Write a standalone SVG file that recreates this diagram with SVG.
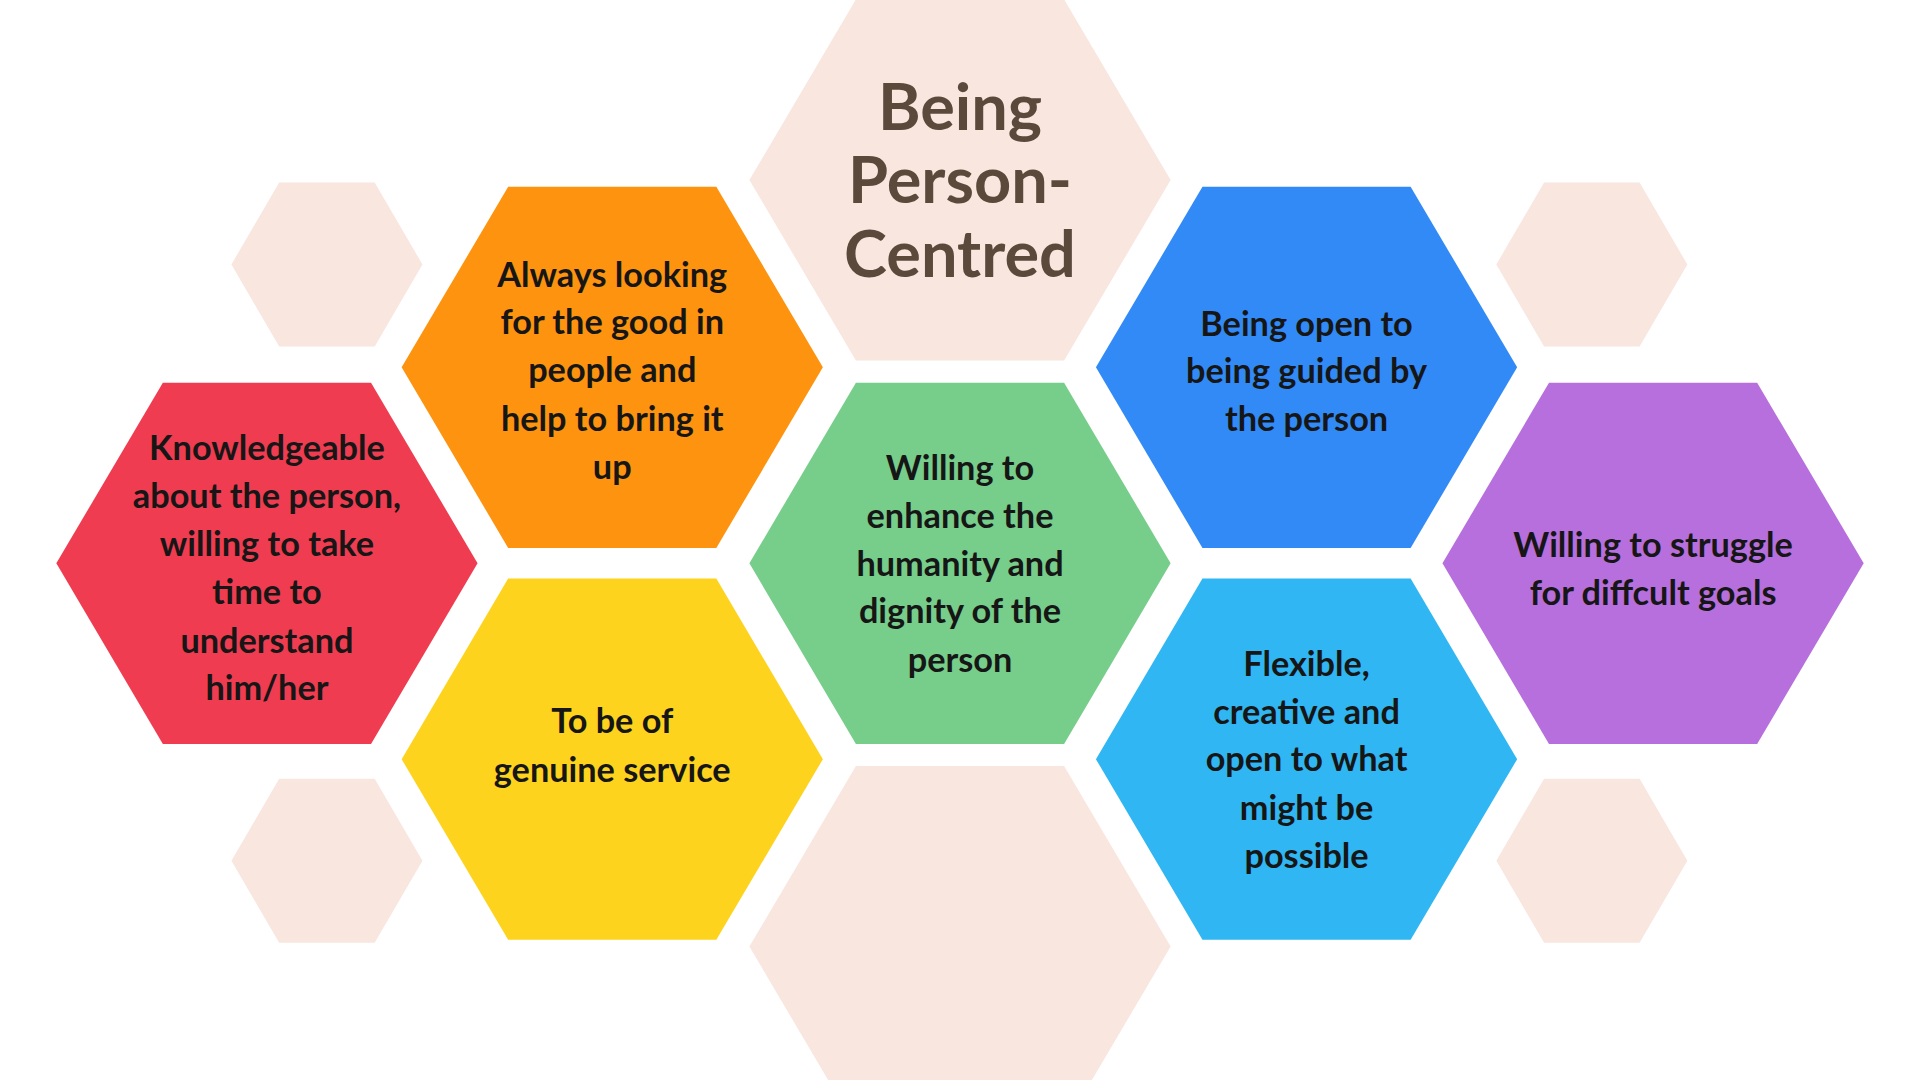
<svg xmlns="http://www.w3.org/2000/svg" width="1920" height="1080" viewBox="0 0 1920 1080">
<defs>
<style>
text{font-family:Lato,"Open Sans",sans-serif;font-weight:bold;text-anchor:middle;fill:#161616;font-size:28px}
.t{font-size:53px;fill:#5b4a3c}
</style>
<polygon id="big" points="-172,0 -85,-147.5 85,-147.5 172,0 85,147.5 -85,147.5"/>
<polygon id="sm" points="-78,0 -39,-67 39,-67 78,0 39,67 -39,67"/>
</defs>
<rect width="1920" height="1080" fill="#fff"/>
<g transform="scale(1.2245)">
<g id="deco" fill="#f8e6df">
<use href="#sm" x="267" y="216"/><use href="#sm" x="267" y="703"/>
<use href="#sm" x="1300" y="216"/><use href="#sm" x="1300" y="703"/>
<use href="#big" x="784" y="773"/>
</g>
<g id="title"><use href="#big" x="784" y="147" fill="#f8e6df"/>
<text class="t" x="784" y="106">Being</text><text class="t" x="784" y="166">Person-</text><text class="t" x="784" y="226">Centred</text></g>
<g id="orange"><use href="#big" x="500" y="300" fill="#fd930f"/>
<text x="500" y="234">Always looking</text><text x="500" y="273">for the good in</text><text x="500" y="312">people and</text><text x="500" y="352">help to bring it</text><text x="500" y="391">up</text></g>
<g id="red"><use href="#big" x="218" y="460" fill="#ef3c50"/>
<text x="218" y="376">Knowledgeable</text><text x="218" y="415">about the person,</text><text x="218" y="454">willing to take</text><text x="218" y="493">time to</text><text x="218" y="533">understand</text><text x="218" y="572">him/her</text></g>
<g id="yellow"><use href="#big" x="500" y="620" fill="#fdd31d"/>
<text x="500" y="599">To be of</text><text x="500" y="639">genuine service</text></g>
<g id="green"><use href="#big" x="784" y="460" fill="#77cd8a"/>
<text x="784" y="392">Willing to</text><text x="784" y="431">enhance the</text><text x="784" y="470">humanity and</text><text x="784" y="509">dignity of the</text><text x="784" y="549">person</text></g>
<g id="blue"><use href="#big" x="1067" y="300" fill="#318af6"/>
<text x="1067" y="274">Being open to</text><text x="1067" y="313">being guided by</text><text x="1067" y="352">the person</text></g>
<g id="cyan"><use href="#big" x="1067" y="620" fill="#30b6f2"/>
<text x="1067" y="552">Flexible,</text><text x="1067" y="591">creative and</text><text x="1067" y="630">open to what</text><text x="1067" y="670">might be</text><text x="1067" y="709">possible</text></g>
<g id="purple"><use href="#big" x="1350" y="460" fill="#b66fdd"/>
<text x="1350" y="455">Willing to struggle</text><text x="1350" y="494">for diffcult goals</text></g>
<g id="connectors"/>
</g>
</svg>
